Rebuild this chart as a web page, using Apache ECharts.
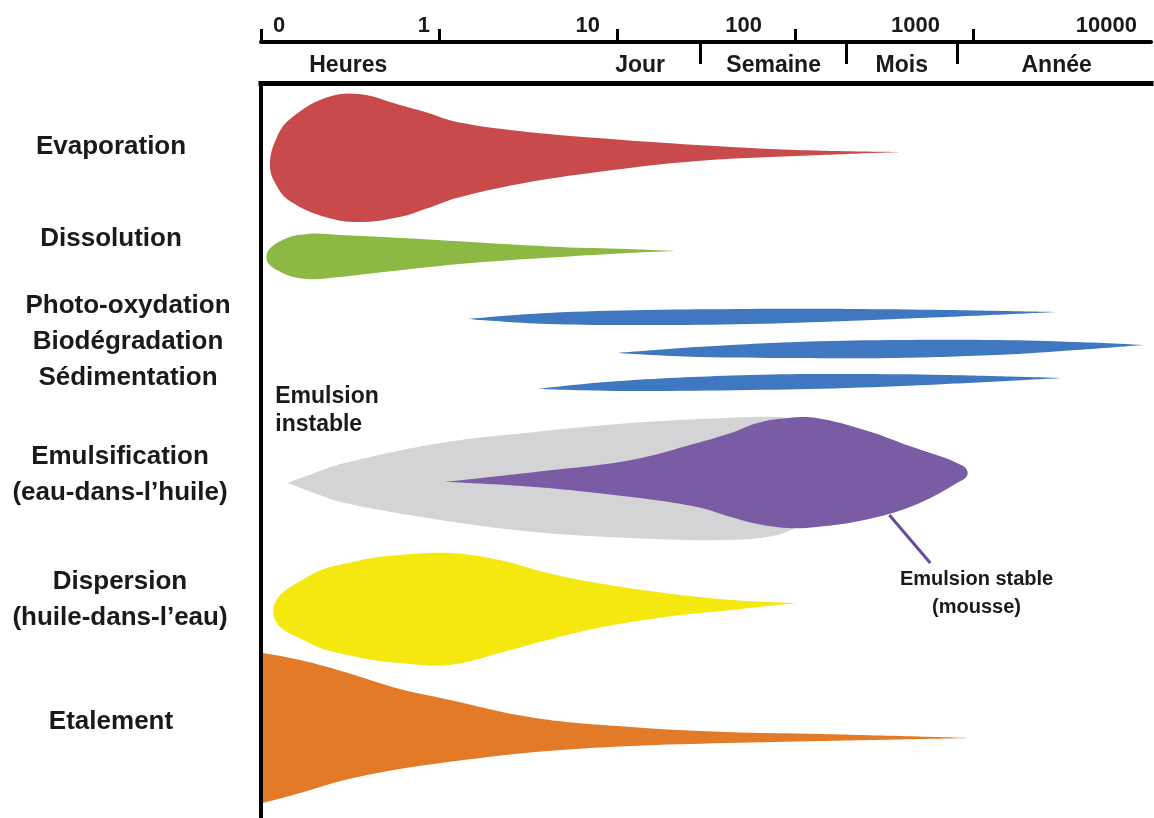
<!DOCTYPE html>
<html>
<head>
<meta charset="utf-8">
<script src="https://cdn.jsdelivr.net/npm/echarts@6/dist/echarts.min.js"></script>
<style>
html,body{margin:0;padding:0;background:#ffffff;}
#chart{width:1154px;height:818px;}
</style>
</head>
<body>
<div id="chart"></div>
<script>
// ---------- Axe du temps (log10 des heures ; -1 porte l'étiquette "0") ----------
const tickValues = [-1, 0, 1, 2, 3, 4];
const tickLabels = ['0', '1', '10', '100', '1000', '10000'];
const periodNames = ['Heures', 'Jour', 'Semaine', 'Mois', 'Année'];
const periodLabelPos = [-0.51, 1.13, 1.88, 2.60, 3.47];
const periodBounds = [1.47, 2.29, 2.91];

// ---------- Processus (lignes) ----------
const processNames = ['Evaporation', 'Dissolution',
  'Photo-oxydation\nBiodégradation\nSédimentation',
  'Emulsification\n(eau-dans-l’huile)',
  'Dispersion\n(huile-dans-l’eau)', 'Etalement'];
const processRows = [64, 156, 259, 392, 517, 639];

// ---------- Enveloppes : x = log10(heures), haut / bas sur l'axe vertical ----------
const evaporationX = [-0.95, -0.905, -0.83, -0.64, -0.45, -0.22, -0.06, 0.10, 0.45, 0.89, 1.45, 2.01, 2.60];
const evaporationTop = [82, 52, 35, 15, 11, 22, 30, 39, 48, 55, 62, 67, 69];
const evaporationBottom = [82, 105, 119, 134, 139, 134, 125, 115, 101, 89, 78, 73, 69];

const dissolutionX = [-0.97, -0.89, -0.74, -0.56, -0.31, 0.18, 0.68, 1.06, 1.33];
const dissolutionTop = [174, 158, 151, 152, 154, 159, 164, 166, 168];
const dissolutionBottom = [174, 189, 196, 194, 189, 180, 174, 170, 168];

const photoX = [0.16, 0.61, 1.17, 1.75, 2.29, 2.85, 3.47];
const photoTop = [236, 230, 227, 226, 226, 227, 229];
const photoBottom = [236, 241, 242, 241, 238, 234, 229];

const biodegX = [1.00, 1.45, 2.01, 2.53, 3.13, 3.58, 3.96];
const biodegTop = [270, 264, 259, 257, 257, 259, 262];
const biodegBottom = [270, 274, 275, 275, 272, 267, 262];

const sedimX = [0.55, 1.01, 1.75, 2.29, 2.85, 3.50];
const sedimTop = [306, 298, 292, 291, 292, 295];
const sedimBottom = [306, 308, 307, 305, 301, 295];

const instableX = [-0.85, -0.67, -0.53, 0.01, 0.54, 1.08, 1.61, 1.90, 2.05];
const instableTop = [400, 388, 380, 360, 349, 340, 335, 334, 338];
const instableBottom = [400, 412, 420, 437, 449, 455, 457, 452, 440];

const stableX = [0.03, 0.54, 1.08, 1.45, 1.64, 1.79, 1.96, 2.12, 2.39, 2.66, 2.91, 2.97];
const stableTop = [399, 389, 377, 360, 350, 340, 335, 335, 347, 364, 380, 390];
const stableBottom = [399, 404, 414, 424, 434, 441, 445, 444, 437, 423, 400, 390];

const dispersionX = [-0.93, -0.74, -0.46, -0.22, 0.06, 0.34, 0.61, 0.89, 1.27, 1.64, 2.01];
const dispersionTop = [529, 494, 478, 472, 470, 477, 490, 500, 510, 517, 520];
const dispersionBottom = [529, 559, 574, 580, 582, 570, 557, 545, 534, 527, 520];

const etalementX = [-0.99, -0.78, -0.53, -0.22, 0.01, 0.54, 1.08, 1.61, 2.15, 2.99];
const etalementTop = [570, 577, 589, 606, 615, 635, 644, 649, 651, 655];
const etalementBottom = [720, 710, 697, 686, 680, 669, 663, 660, 658, 655];

// ---------- Annotations ----------
const annotationTexts = ['Emulsion\ninstable', 'Emulsion stable\n(mousse)'];
const annotationX = [-0.92, 3.02];
const annotationY = [328, 510];
const leaderX = [2.53, 2.76];
const leaderY = [432, 480];

// ---------- Construction ----------
const shapes = [
  {x: evaporationX, top: evaporationTop, bottom: evaporationBottom, color: '#C84A4A', roundL: true, roundR: false},
  {x: dissolutionX, top: dissolutionTop, bottom: dissolutionBottom, color: '#8CB944', roundL: true, roundR: false},
  {x: photoX, top: photoTop, bottom: photoBottom, color: '#3F78C1', roundL: false, roundR: false},
  {x: biodegX, top: biodegTop, bottom: biodegBottom, color: '#3F78C1', roundL: false, roundR: false},
  {x: sedimX, top: sedimTop, bottom: sedimBottom, color: '#3F78C1', roundL: false, roundR: false},
  {x: instableX, top: instableTop, bottom: instableBottom, color: '#D4D4D6', roundL: false, roundR: false},
  {x: stableX, top: stableTop, bottom: stableBottom, color: '#7A5CA4', roundL: false, roundR: true},
  {x: dispersionX, top: dispersionTop, bottom: dispersionBottom, color: '#F4E80F', roundL: true, roundR: false},
  {x: etalementX, top: etalementTop, bottom: etalementBottom, color: '#E27A27', roundL: false, roundR: false}
];

// Lissage : Bézier à tangentes proportionnelles aux longueurs de corde
function smoothPath(pts, sharp) {
  const n = pts.length, s = 0.38;
  const cin = [], cout = [];
  for (let k = 0; k < n; k++) {
    const p = pts[k];
    if (sharp[k]) { cin.push(p); cout.push(p); continue; }
    const a = pts[(k - 1 + n) % n], b = pts[(k + 1) % n];
    let ux = b[0] - a[0], uy = b[1] - a[1];
    const L = Math.hypot(ux, uy) || 1; ux /= L; uy /= L;
    const d1 = Math.hypot(p[0] - a[0], p[1] - a[1]);
    const d2 = Math.hypot(b[0] - p[0], b[1] - p[1]);
    cin.push([p[0] - ux * d1 * s, p[1] - uy * d1 * s]);
    cout.push([p[0] + ux * d2 * s, p[1] + uy * d2 * s]);
  }
  let d = 'M' + pts[0][0] + ',' + pts[0][1];
  for (let k = 0; k < n; k++) {
    const j = (k + 1) % n;
    d += ' C' + cout[k][0] + ',' + cout[k][1] + ' ' + cin[j][0] + ',' + cin[j][1] + ' ' + pts[j][0] + ',' + pts[j][1];
  }
  return d + ' Z';
}

const FONT = "'Liberation Sans', Arial, sans-serif";
const chart = echarts.init(document.getElementById('chart'), null, {renderer: 'canvas'});

const gapRich = {
  g0: {padding: [0, 9, 0, 0]},
  g1: {padding: [0, 17, 0, 0]},
  g2: {padding: [0, 33, 0, 0]},
  g3: {padding: [0, 33, 0, 0]},
  g4: {padding: [0, 14, 0, 0]}
};
const rowText = {color: '#1a1a1a', fontSize: 26, fontWeight: 'bold', fontFamily: FONT, lineHeight: 36};
const rowRich = {
  l: Object.assign({padding: [0, 18, 0, 0]}, rowText),
  c: Object.assign({}, rowText),
  r: Object.assign({padding: [0, 0, 0, 16]}, rowText)
};
const rowShift = ['l', 'l', 'r', 'c', 'c', 'l'];

chart.setOption({
  animation: false,
  backgroundColor: '#ffffff',
  grid: {left: 261, top: 83, width: 895, height: 735},
  xAxis: [
    { // cadre supérieur
      type: 'value', min: -1, max: 4, position: 'top', z: 10,
      axisLine: {show: true, onZero: false, lineStyle: {color: '#000', width: 5, cap: 'square'}},
      axisTick: {show: false}, axisLabel: {show: false}, splitLine: {show: false}
    },
    { // décades
      type: 'value', min: -1, max: 4, interval: 1, position: 'top', offset: 41,
      axisLine: {show: true, onZero: false, lineStyle: {color: '#000', width: 4}},
      axisTick: {show: true, length: 13, customValues: tickValues.slice(0, 5), lineStyle: {color: '#000', width: 3}},
      axisLabel: {
        margin: 5, align: 'right', showMinLabel: true, showMaxLabel: true, hideOverlap: false,
        color: '#1a1a1a', fontSize: 22, fontWeight: 'bold', fontFamily: FONT,
        formatter: v => { const i = tickValues.indexOf(v); return i <= 0 ? '' : '{g' + (i - 1) + '|' + tickLabels[i] + '}'; },
        rich: gapRich
      },
      splitLine: {show: false}
    },
    { // étiquette "0"
      type: 'value', min: -1, max: 4, interval: 1, position: 'top', offset: 41,
      axisLine: {show: false}, axisTick: {show: false}, splitLine: {show: false},
      axisLabel: {
        margin: 5, align: 'left', showMinLabel: true, padding: [0, 0, 0, 12],
        color: '#1a1a1a', fontSize: 22, fontWeight: 'bold', fontFamily: FONT,
        formatter: v => v === tickValues[0] ? tickLabels[0] : ''
      }
    },
    { // périodes
      type: 'value', min: -1, max: 4, position: 'top', offset: 41,
      axisLine: {show: false}, splitLine: {show: false},
      axisTick: {show: true, inside: true, length: 22, customValues: periodBounds, lineStyle: {color: '#000', width: 3}},
      axisLabel: {
        inside: true, margin: 12, customValues: periodLabelPos, hideOverlap: false,
        color: '#1a1a1a', fontSize: 23, fontWeight: 'bold', fontFamily: FONT,
        formatter: v => { const i = periodLabelPos.indexOf(v); return i < 0 ? '' : periodNames[i]; }
      }
    }
  ],
  yAxis: {
    type: 'value', inverse: true, min: 0, max: 735, z: 10,
    axisLine: {show: true, onZero: false, lineStyle: {color: '#000', width: 4, cap: 'square'}},
    axisTick: {show: false}, splitLine: {show: false},
    axisLabel: {
      customValues: processRows, margin: 141, align: 'center', hideOverlap: false,
      color: '#1a1a1a', fontSize: 26, fontWeight: 'bold', fontFamily: FONT, lineHeight: 36,
      formatter: v => {
        const i = processRows.indexOf(v);
        if (i < 0) return '';
        return processNames[i].split('\n').map(t => '{' + rowShift[i] + '|' + t + '}').join('\n');
      },
      rich: rowRich
    }
  },
  series: [
    {
      type: 'custom', name: 'processus', silent: true,
      data: shapes.map(s => [s.x[0], s.top[0]]),
      renderItem: (params, api) => {
        const s = shapes[params.dataIndex];
        const n = s.x.length;
        const pts = [], sharp = [];
        const isSharp = i => (i === 0 && !s.roundL) || (i === n - 1 && !s.roundR);
        for (let i = 0; i < n; i++) { pts.push(api.coord([s.x[i], s.top[i]])); sharp.push(isSharp(i)); }
        for (let i = n - 1; i >= 0; i--) {
          if (s.bottom[i] !== s.top[i]) { pts.push(api.coord([s.x[i], s.bottom[i]])); sharp.push(isSharp(i)); }
        }
        return {type: 'path', shape: {pathData: smoothPath(pts, sharp)}, style: {fill: s.color}};
      }
    },
    {
      type: 'line', name: 'renvoi', silent: true, symbol: 'none',
      data: leaderX.map((x, i) => [x, leaderY[i]]),
      lineStyle: {color: '#6A4A9E', width: 3}
    },
    {
      type: 'custom', name: 'annotations', silent: true,
      data: annotationTexts.map((t, i) => [annotationX[i], annotationY[i]]),
      renderItem: (params, api) => {
        const p = api.coord([api.value(0), api.value(1)]);
        const i = params.dataIndex;
        return {
          type: 'text', x: p[0], y: p[1],
          style: {
            text: annotationTexts[i], fill: '#1a1a1a', fontSize: i === 0 ? 23 : 20, fontWeight: 'bold', fontFamily: FONT,
            align: i === 0 ? 'left' : 'center', verticalAlign: 'middle', lineHeight: 28
          }
        };
      }
    }
  ]
});
</script>
</body>
</html>
